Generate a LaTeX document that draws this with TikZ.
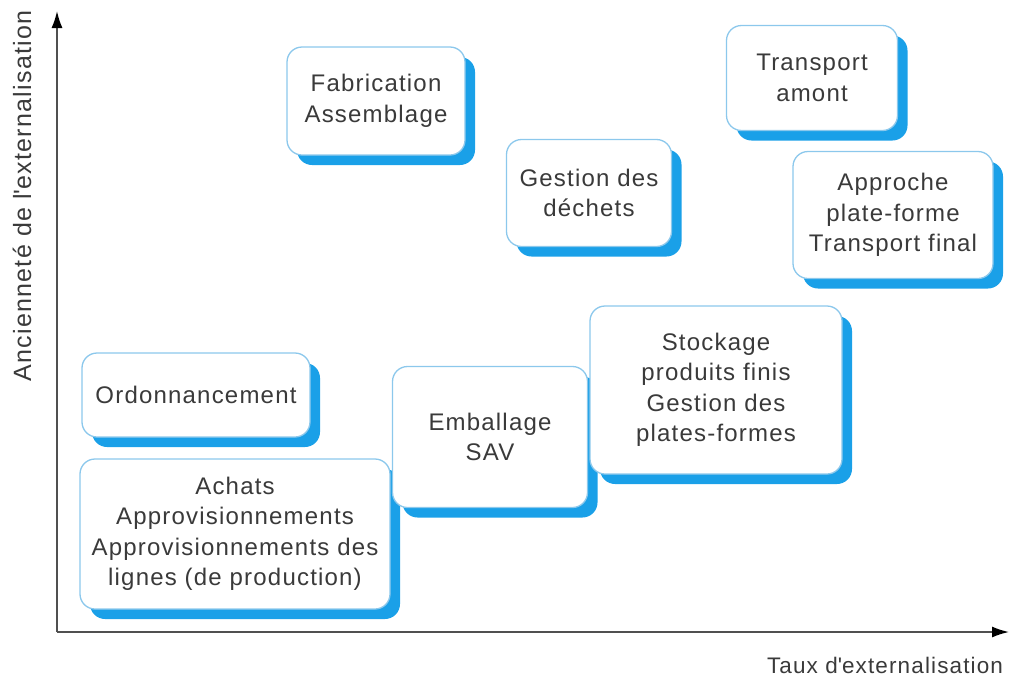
\documentclass[tikz,border=0pt]{standalone}
\usepackage{fontspec}
\setmainfont{Liberation Sans}
\newfontfamily\spaced[LetterSpace=5]{Liberation Sans}
\usetikzlibrary{shadows,arrows.meta}
\definecolor{boxborder}{HTML}{8CC8EC}
\definecolor{boxshadow}{HTML}{1AA0E8}
\definecolor{txt}{HTML}{3A3A3A}
\definecolor{axis}{HTML}{505050}
\tikzset{
  fbox/.style={draw=boxborder, line width=1.3pt, fill=white, rounded corners=15pt,
    text=txt, align=center, inner sep=0pt,
    font=\spaced\fontsize{24}{30.5}\selectfont,
    drop shadow={shadow xshift=10pt, shadow yshift=-10pt, fill=boxshadow, opacity=1}},
  axisline/.style={draw=axis, line width=1.6pt, -{Latex[length=17pt,width=11pt,black]}},
  axislabel/.style={text=txt, inner sep=0pt}
}
\begin{document}
\begin{tikzpicture}[x=1pt,y=-1pt]
\useasboundingbox (0,0) rectangle (1010,678);
\coordinate (O) at (57,632);
\coordinate (Ytop) at (57,11);
\coordinate (Xend) at (1009,632);
\draw[axisline] (O) -- (Ytop);
\draw[axisline] (O) -- (Xend);
\node[axislabel, rotate=90, font=\spaced\fontsize{25}{30}\selectfont] (ylab) at (22,196) {Ancienneté de l\textquotesingle externalisation};
\node[axislabel, font=\spaced\fontsize{22.5}{30}\selectfont] (xlab) at (885,665) {Taux d\textquotesingle externalisation};

\node[fbox, minimum width=178pt, minimum height=108pt] (fab) at (376,101) {Fabrication\\Assemblage};
\node[fbox, minimum width=171pt, minimum height=105pt] (tra) at (812,78) {Transport\\amont};
\node[fbox, minimum width=165pt, minimum height=107pt] (ges) at (589,193) {Gestion des\\déchets};
\node[fbox, minimum width=200pt, minimum height=127pt] (app) at (893,215) {Approche\\plate-forme\\Transport final};
\node[fbox, minimum width=228pt, minimum height=84pt] (ord) at (196,395) {Ordonnancement};
\node[fbox, minimum width=310pt, minimum height=150pt] (ach) at (235,534) {Achats\\Approvisionnements\\Approvisionnements des\\lignes (de production)};
\node[fbox, minimum width=195pt, minimum height=141pt] (emb) at (490,437) {Emballage\\SAV};
\node[fbox, minimum width=252pt, minimum height=168pt] (sto) at (716,390) {Stockage\\produits finis\\Gestion des\\plates-formes};
\end{tikzpicture}
\end{document}
